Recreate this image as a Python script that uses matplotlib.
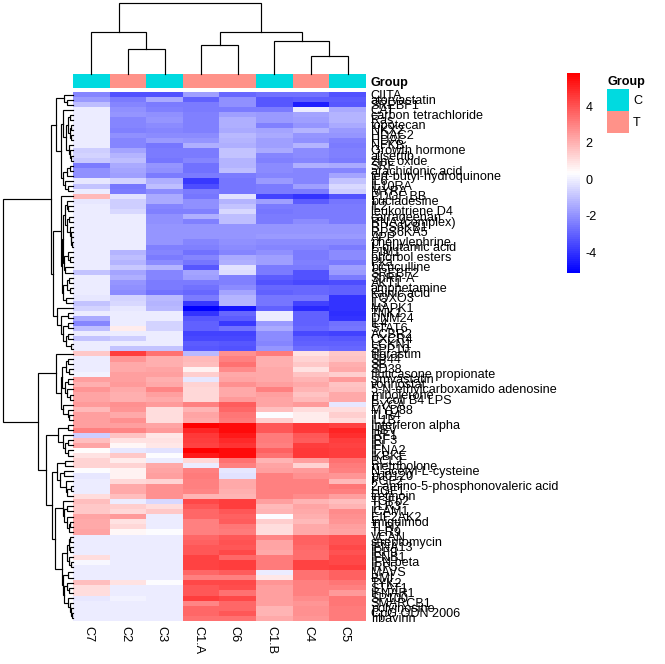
import numpy as np
import matplotlib
matplotlib.use("Agg")
import matplotlib.pyplot as plt
from matplotlib.colors import LinearSegmentedColormap, ListedColormap
from matplotlib.transforms import ScaledTranslation

plt.rcParams['font.family'] = ['Liberation Sans', 'DejaVu Sans']
W, H = 665, 664
FS = 9.05

columns = ["C7", "C2", "C3", "C1.A", "C6", "C1.B", "C4", "C5"]
groups = [0, 1, 0, 1, 1, 0, 1, 0]
group_names = ["C", "T"]
group_colors = ["#00DAE0", "#FF9289"]
cbar_ticks = [-4, -2, 0, 2, 4]
vmin, vmax = -5.14, 5.82

rows_labels_a = ["CIITA", "atorvastatin", "SREBF1", "CAT", "carbon tetrachloride", "Ras", "topotecan",
    "NKX2", "HDAC2", "HDAC", "NFKB", "Growth hormone", "alisertib", "zinc oxide", "SRF", "arachidonic acid",
    "tert-butyl-hydroquinone", "IL6", "IL10RA", "MYRA", "PDGF BB", "bucladesine", "IL2", "leukotriene D4",
    "carrageenan", "RNA (complex)"]
rows_labels_b = ["RPS6KB1", "RPS6KA5", "APP", "phenylephrine", "L-glutamic acid", "PIM1", "phorbol esters", "Pka",
    "bicuculline", "SREBF2", "ShRh-A", "AKT1", "amphetamine", "kainic acid", "FOXO3", "IL3", "MAPK1",
    "TNK1", "DNM24", "IL4", "STAT6", "ACBR2", "CXCR4", "LCKN1"]
rows_labels_c = ["SPP10", "filgrastim", "SP44", "SB", "SD38", "fluticasone propionate", "simvastatin",
    "vorinostat", "5-N-ethylcarboxamido adenosine", "mibolerone", "E. coli B4 LPS", "PYCA", "MYD88", "TLR4",
    "IL1B", "Interferon alpha", "HBV", "IRF1", "IRF3", "IFI", "IFNA2", "IKBKE", "BCL2", "metribolone"]
rows_labels_d = ["N-acetyl-L-cysteine", "pd0120", "FGF2", "2-amino-5-phosphonovaleric acid", "HGF1", "tretinoin",
    "TGFb2", "TLR3", "ICAM1", "EIF2AK2", "imiquimod", "TLR7", "TLR9", "VCAN", "streptomycin", "IFNA13", "IRF9",
    "IFNB1", "IFN beta", "IRF5", "MAVS", "BMI", "TYK2", "STAT1", "IFNAR1", "SP100"]
rows_labels_e = ["SMARCB1", "polyinosine", "CpG ODN 2006", "ribavirin"]

heat_a = [
 [-2.2,-3.3,-3.3,-1.7,-2.9,-2.7,-2.7,-3.3],
 [-1.8,-2.4,-1.5,-3.0,-2.0,-3.2,-3.1,-3.1],
 [-1.0,-2.2,-2.4,-2.4,-2.0,-3.2,-4.4,-3.2],
 [0.0,-2.0,-2.3,-2.4,-2.4,-2.5,0.0,-1.5],
 [0.0,-1.9,-2.0,-2.3,-1.7,-1.8,-1.6,-1.2],
 [0.0,-2.2,-1.9,-2.3,-1.4,-1.8,-1.7,-1.3],
 [0.0,-2.2,-2.1,-2.3,-1.4,-2.3,-1.9,-1.5],
 [0.0,-2.3,-2.2,-2.3,-1.5,-1.6,-1.3,-1.8],
 [0.0,-2.0,-2.1,-2.1,-1.1,-1.5,-1.9,-1.9],
 [0.0,-2.2,-1.8,-1.9,-1.3,-1.7,-2.0,-2.3],
 [0.0,-2.2,-2.6,-1.4,-1.4,-1.7,-1.3,-2.5],
 [-0.7,-1.6,-2.5,-2.5,-0.9,-1.5,-2.1,-2.3],
 [-0.6,-1.3,-2.4,-2.5,-0.9,-2.2,-2.1,-2.3],
 [-0.8,-1.0,-2.6,-2.2,-1.2,-2.3,-2.2,-2.4],
 [-2.5,-1.5,-1.9,-2.7,-1.2,-2.1,-1.4,-1.5],
 [-2.0,-1.6,-2.0,-2.7,-1.0,-2.1,-2.2,-2.2],
 [-2.0,-1.7,-2.4,-2.4,-2.4,-2.2,-2.2,-1.6],
 [-0.15,-0.6,-1.4,-3.9,-2.6,-1.8,-2.2,-0.9],
 [-0.9,-2.6,-1.0,-3.4,-2.6,-2.5,-1.7,-0.5],
 [0.0,-2.4,-2.1,-2.5,-2.6,-2.4,-2.4,-0.7],
]
heat_b = [
 [1.8,-0.3,-1.5,-2.6,-0.3,-3.7,-4.0,-3.3],
 [-0.1,-0.7,-1.5,-2.0,-1.2,-1.7,-3.1,-2.6],
 [0.0,-0.7,-2.2,-2.0,-0.9,-2.4,-2.4,-2.5],
 [0.0,-0.5,-2.3,-2.3,-0.5,-2.6,-2.5,-2.5],
 [0.0,0.0,-2.0,-1.4,-1.0,-2.4,-2.5,-2.4],
 [0.0,0.0,-2.0,-2.3,-1.0,-2.4,-2.1,-2.4],
 [0.0,0.0,-1.9,-1.9,-1.9,-1.9,-1.9,-1.9],
 [0.0,0.0,-1.9,-1.9,-1.9,-1.9,-1.9,-1.9],
 [0.0,0.0,-1.9,-1.9,-1.9,-1.8,-1.8,-1.8],
 [0.0,0.0,-1.9,-2.2,-2.0,-2.1,-2.1,-2.1],
 [0.0,0.0,-2.3,-2.3,-2.1,-2.2,-2.2,-2.4],
 [0.0,-1.3,-2.2,-2.7,-2.2,-2.0,-2.5,-2.1],
 [0.0,-1.0,-2.5,-2.2,-1.5,-1.7,-2.4,-2.1],
 [0.0,-1.3,-2.1,-2.6,-1.4,-1.7,-2.3,-2.5],
 [0.0,-0.8,-1.2,-3.2,-0.3,-2.4,-2.5,-1.7],
 [-0.9,-1.6,-2.2,-1.6,-0.4,-2.5,-3.3,-1.8],
 [0.0,-1.4,-2.2,-1.7,-2.3,-3.1,-3.3,-2.4],
 [0.0,-1.9,-2.5,-2.5,-2.3,-3.3,-3.6,-3.4],
 [0.0,-2.0,-2.5,-2.7,-2.1,-2.9,-2.9,-3.0],
 [0.0,-2.1,-2.7,-2.9,-1.6,-3.0,-2.9,-3.0],
 [-0.2,-0.6,-1.1,-2.4,-1.2,-2.6,-2.6,-4.0],
 [-0.9,-0.5,-1.2,-3.9,-1.2,-2.6,-3.7,-4.0],
 [-0.6,-0.2,-1.1,-5.1,-4.7,-3.0,-4.2,-4.0],
 [0.0,0.0,0.0,-4.0,-2.9,0.0,-3.0,-4.1],
 [-1.5,0.0,0.0,-3.2,-3.1,0.0,-3.0,-4.0],
 [-2.2,0.0,-0.6,-3.0,-3.9,-1.8,-3.0,-2.7],
 [-1.0,0.7,-0.6,-3.0,-2.7,-1.5,-2.9,-2.6],
 [0.0,0.0,0.0,-3.7,-3.7,-2.1,-3.5,-3.7],
 [-0.9,-0.7,0.0,-3.6,-3.6,-2.1,-3.1,-3.2],
 [0.0,0.0,0.0,-3.1,-3.2,-2.2,-3.0,-3.0],
 [0.0,-0.9,-0.9,-3.2,-3.3,-1.9,-2.8,-2.9],
]
heat_c = [
 [1.5,4.4,3.4,-1.1,2.7,3.1,0.9,1.5],
 [0.0,2.6,2.0,1.8,3.0,2.0,1.3,1.6],
 [0.0,2.1,2.0,1.7,3.4,2.0,1.5,2.0],
 [0.0,2.1,2.3,0.6,2.8,2.1,0.9,2.1],
 [0.1,2.4,2.4,1.4,2.1,2.1,1.6,1.4],
 [2.4,2.4,2.0,-0.2,2.3,2.2,1.9,2.5],
 [2.0,2.5,2.1,1.3,2.7,2.4,2.2,1.6],
 [2.6,2.2,2.9,1.2,2.2,3.0,1.9,1.7],
 [2.3,2.0,2.4,1.2,2.1,2.4,1.6,2.1],
 [2.3,2.0,2.1,1.2,2.5,2.3,1.8,2.1],
 [2.5,2.7,2.5,3.0,3.8,2.3,2.5,-0.1],
 [1.8,2.6,1.1,1.9,3.6,1.7,1.1,1.0],
 [2.4,2.2,1.1,2.3,3.2,0.3,0.7,1.4],
 [2.4,2.7,1.1,2.2,3.1,1.4,0.7,1.1],
 [2.4,2.4,2.3,5.8,5.5,3.9,4.6,4.3],
 [3.0,2.9,2.5,5.0,5.5,3.9,4.6,5.0],
 [-0.7,1.6,0.8,4.6,5.2,3.1,3.9,4.8],
 [1.7,0.9,0.9,4.5,4.9,3.1,3.8,4.5],
 [2.3,0.5,0.8,4.3,4.7,3.0,4.5,4.3],
 [0.4,-0.1,-0.3,5.8,5.5,3.7,4.6,4.4],
 [0.9,1.5,0.3,5.2,5.5,3.3,4.6,4.4],
 [1.3,0.7,0.0,1.2,3.3,1.9,2.4,3.4],
 [1.3,1.3,2.1,0.0,3.0,2.3,1.3,3.1],
 [0.3,0.6,2.3,3.0,-0.1,2.4,2.5,3.0],
]
heat_d = [
 [-0.2,0.6,2.4,3.1,-0.3,3.0,2.7,2.6],
 [0.0,1.2,1.3,3.0,2.1,3.0,3.0,1.8],
 [0.0,2.2,2.7,3.0,2.1,3.0,3.0,3.2],
 [0.0,2.2,2.7,2.9,2.0,3.0,3.0,3.0],
 [1.1,1.7,2.7,1.9,1.9,3.0,2.8,2.4],
 [1.7,0.0,-0.5,4.2,4.5,2.4,1.9,1.7],
 [1.5,1.4,1.1,3.9,4.5,1.8,2.3,1.9],
 [1.5,1.2,1.5,3.6,3.9,1.9,2.2,2.8],
 [2.3,2.5,0.0,3.6,3.7,0.3,2.0,2.7],
 [2.1,0.9,0.0,3.0,3.8,1.4,1.8,2.6],
 [2.1,1.2,0.0,3.0,3.2,1.0,2.1,2.4],
 [2.3,0.5,0.3,3.0,3.1,1.0,2.1,2.3],
 [0.0,0.0,0.0,3.6,3.9,2.9,3.7,4.0],
 [0.0,0.0,0.0,3.7,4.0,2.3,3.7,4.0],
 [0.0,0.0,0.0,3.9,3.9,2.3,3.6,4.2],
 [0.0,0.0,0.0,3.9,4.2,2.1,3.5,4.0],
 [1.0,0.0,0.0,4.3,3.6,3.1,3.5,4.2],
 [0.2,0.0,0.0,4.3,4.4,3.1,4.3,4.2],
 [0.0,0.0,0.0,4.3,4.4,3.1,4.3,4.4],
 [0.0,0.0,0.0,3.6,3.8,0.0,3.4,3.7],
 [0.0,0.0,0.0,3.0,3.0,0.8,3.4,3.7],
 [1.7,0.9,0.3,4.2,4.2,2.6,3.0,3.2],
 [1.1,0.0,0.0,3.9,4.1,2.4,3.0,3.0],
 [1.1,0.0,0.0,3.9,3.4,2.4,3.0,2.5],
 [-0.2,0.1,0.0,4.5,4.2,2.4,2.8,3.2],
 [0.0,0.0,0.0,2.9,3.6,2.4,2.6,3.2],
 [0.0,0.0,0.0,3.6,3.6,1.9,2.7,3.1],
 [0.0,0.0,0.0,3.6,3.9,1.9,2.7,3.1],
 [0.0,0.0,0.0,3.3,3.3,2.1,2.6,3.1],
]

# merge trees: (merge height, left, right); integers are leaves
col_tree = (70.7, (41.7, 0, (24.7, 1, 2)),
            (41.7, (28.7, 3, 4), (32.7, 5, (17.7, 6, 7))))

tree_a = (17, (8.7, 0, (6.3, 1, 2)),
          (12, (9.7, 3, (6.5, (5, (2.5, 4, 5), (3, (2, 6, 7), (1.5, 8, 9))),
                         (4, 10, (2.5, 11, (1.5, 12, 13))))),
           (9.7, (6, (3, 14, 15), 16), (8, 17, (4.5, 18, 19)))))
tree_c1 = (12.3, 20,
           (11.3, (9.7, (8, (6, 21, (4.5, 22, 23)), (6, (4, 24, 25), (3, 26, (2, 27, (1.5, 28, (1, 29, 30)))))),
                   (8.5, (5, 31, (3, 32, 33)), (8, 34, 35))),
            (9.7, (5.5, (4, 36, 37), (3, 38, 39)), (7, 40, 41))))
tree_c2 = (15.7, 42, (11.5, (5.3, 43, 44),
                      (10, (5.3, 45, 46), (6.5, (4.5, 47, 48), (2, 49, 50)))))
tree_b1 = (17, 51, (12, (10.5, (7, (5, 52, 53), (4, 54, 55)),
                         (7.5, (5, 56, 57), (5.5, 58, (3, 59, 60)))),
                    (10.3, 61, (5, 62, (3.5, 63, 64)))))
tree_b2a = (15, (4.7, 65, 66), (10, 67, (8, (4.5, 68, 69), (5, 70, 71))))
tree_b2c = (16, (7.5, 72, 73), (12.5, (9, 74, 75), (7, 76, (6, (2, 77, 78), 79))))
tree_b2d = (10.3, 80, (8.5, (6, 81, 82), (6, 83, (3.5, (2.5, 84, 85), 86))))
tree_b2e = (11.3, (5.5, (4, (2.5, 87, 88), (3, 89, 90)), (3.5, 91, (1.5, 92, 93))),
            (10.3, (4.5, 94, 95),
             (9, (6, 96, (4, 97, 98)), (5, 99, (3, 100, (2, 101, (1.2, 102, 103)))))))
row_tree = (70, (22, tree_a, (20, tree_c1, tree_c2)),
            (34.7, tree_b1, (26.7, tree_b2a, (20.7, tree_b2c, (17.7, tree_b2d, tree_b2e)))))


def px_axes(x0, y0, x1, y1):
    ax = fig.add_axes([x0 / W, 1 - y1 / H, (x1 - x0) / W, (y1 - y0) / H])
    return ax


def walk(node, segs):
    if not isinstance(node, tuple):
        return node + 0.5, 0.0
    h, a, b = node
    pa, ha = walk(a, segs)
    pb, hb = walk(b, segs)
    segs.append(([pa, pa, pb, pb], [ha, h, h, hb]))
    return (pa + pb) / 2, h


row_labels = rows_labels_a + rows_labels_b + rows_labels_c + rows_labels_d + rows_labels_e
matrix = np.vstack([heat_a, heat_b, heat_c, heat_d])
cmap = LinearSegmentedColormap.from_list("bwr100", ["#0000FF", "#FFFFFF", "#FF0000"], N=100)

fig = plt.figure(figsize=(W / 100, H / 100), dpi=100)
hx0, hx1, hy0, hy1 = 73, 366, 92, 620.8

ax = px_axes(hx0, hy0, hx1, hy1)
im = ax.imshow(matrix, cmap=cmap, vmin=vmin, vmax=vmax, aspect="auto", interpolation="nearest",
               extent=(0, len(columns), matrix.shape[0], 0))
ax.set_xticks(np.arange(len(columns)) + 0.5, columns, rotation=270, ha="center", va="top", fontsize=FS)
ax.yaxis.tick_right()
ax.set_yticks(np.arange(len(row_labels)) + 0.5, row_labels, fontsize=FS, va="center")
ax.tick_params(length=0, pad=3.4)
for lab in ax.get_yticklabels():
    lab.set_transform(lab.get_transform() + ScaledTranslation(0, -1 / 100, fig.dpi_scale_trans))
for lab in ax.get_xticklabels():
    lab.set_transform(lab.get_transform() + ScaledTranslation(-3 / 100, 0, fig.dpi_scale_trans))
for s in ax.spines.values():
    s.set_visible(False)

ann = px_axes(hx0, 74, hx1, 88.3)
ann.imshow(np.array([groups]), cmap=ListedColormap(group_colors), aspect="auto", vmin=0, vmax=1,
           interpolation="nearest")
ann.set_xticks([])
ann.yaxis.tick_right()
ann.set_yticks([0], ["Group"], fontsize=FS, fontweight="bold")
ann.tick_params(length=0, pad=3.4)
for s in ann.spines.values():
    s.set_visible(False)

top = px_axes(hx0, 3, hx1, 74)
segs = []
walk(col_tree, segs)
for xs, ys in segs:
    top.plot(xs, ys, color="black", lw=0.85, solid_joinstyle="miter", solid_capstyle="projecting", clip_on=False)
top.set_xlim(0, len(columns))
top.set_ylim(0, 71)
top.axis("off")

left = px_axes(3, hy0, hx0, hy1)
segs = []
walk(row_tree, segs)
for ys, xs in segs:
    left.plot(xs, ys, color="black", lw=0.85, solid_joinstyle="miter", solid_capstyle="projecting", clip_on=False)
left.set_ylim(matrix.shape[0], 0)
left.set_xlim(70, 0)
left.axis("off")

cax = px_axes(567, 73, 580, 273)
cb = fig.colorbar(im, cax=cax, ticks=cbar_ticks)
cb.outline.set_visible(False)
cb.ax.tick_params(length=0, pad=4, labelsize=FS)
cb.ax.set_yticklabels([str(t) for t in cbar_ticks])

leg = px_axes(607, 89, 629, 133)
leg.imshow(np.array([[0], [1]]), cmap=ListedColormap(group_colors), aspect="auto", vmin=0, vmax=1,
           interpolation="nearest")
leg.set_xticks([])
leg.yaxis.tick_right()
leg.set_yticks([0, 1], group_names, fontsize=FS)
leg.tick_params(length=0, pad=3)
for s in leg.spines.values():
    s.set_visible(False)
leg.set_title("Group", fontsize=FS, fontweight="bold", loc="left", pad=2.6, x=0)

fig.savefig("out.png", dpi=100)
